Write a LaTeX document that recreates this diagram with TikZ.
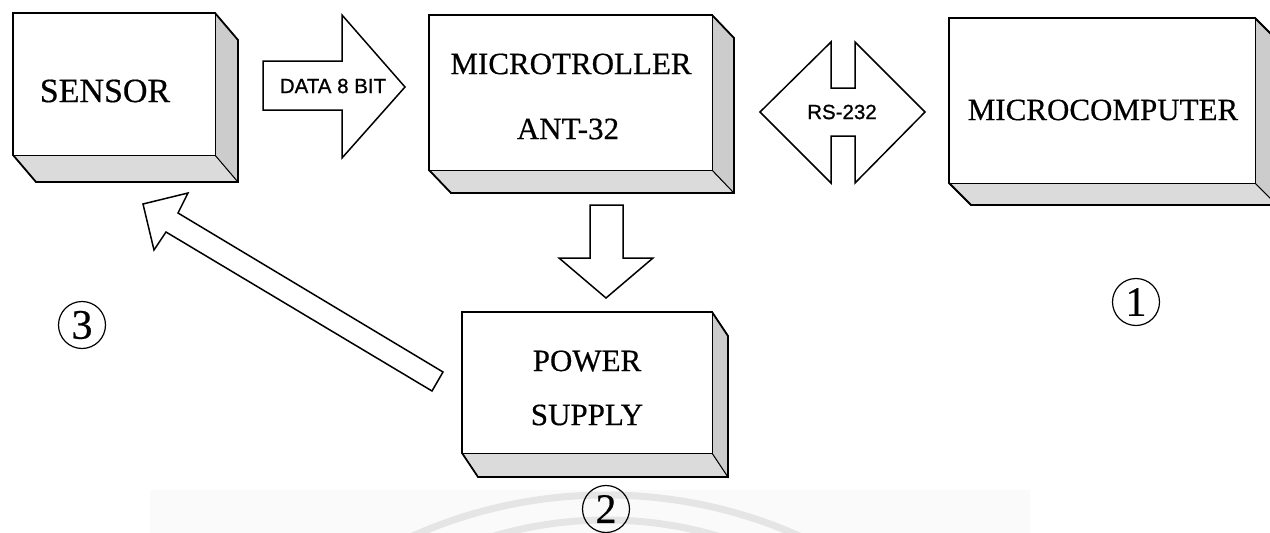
\documentclass[tikz,border=0pt]{standalone}
\usepackage{fontspec}
\setmainfont[FakeBold=0.5]{Liberation Serif}
\newfontfamily\arialfont[FakeBold=1]{Liberation Sans}
\tikzset{
  outerline/.style={draw=black, line width=1.8pt, line join=miter},
  frontface/.style={draw=black, fill=white, line width=1pt},
  sideface/.style={fill=gray!40, draw=black, line width=0.9pt},
  baseface/.style={fill=gray!28, draw=black, line width=0.9pt},
  blockarrow/.style={draw=black, fill=white, line width=1.5pt, line join=miter},
  boxlabel/.style={font=\fontsize{31}{36}\selectfont, inner sep=0pt},
  arrowlabel/.style={font=\arialfont\fontsize{20.5}{24}\selectfont, inner sep=0pt},
  numlabel/.style={circle, draw=black, line width=1.2pt, minimum size=47pt, inner sep=0pt, font=\fontsize{42}{42}\selectfont},
  wmark/.style={draw=gray!20, line width=7pt},
}
% #1 name, (#2,#3) front top-left, (#4,#5) front bottom-right, #6 dx, #7 dy
\newcommand{\solidbox}[7]{%
  \path[baseface] (#2,#5) -- (#4,#5) -- ({#4+#6},{#5+#7}) -- ({#2+#6},{#5+#7}) -- cycle;
  \path[sideface] (#4,#3) -- ({#4+#6},{#3+#7}) -- ({#4+#6},{#5+#7}) -- (#4,#5) -- cycle;
  \path[frontface] (#2,#3) rectangle (#4,#5);
  \path[outerline] (#2,#3) -- (#4,#3) -- ({#4+#6},{#3+#7}) -- ({#4+#6},{#5+#7}) -- ({#2+#6},{#5+#7}) -- (#2,#5) -- cycle;
  \coordinate (#1) at ({(#2+#4)/2},{(#3+#5)/2});
}
\begin{document}
\begin{tikzpicture}[x=1pt,y=-1pt]
\path[use as bounding box, clip] (0,0) rectangle (1270,533);
\fill[white] (0,0) rectangle (1270,533);

% faint watermark
\fill[gray!4] (150,490) rectangle (1030,533);
\begin{scope}
  \clip (150,490) rectangle (1030,533);
  \draw[wmark] (606,970) circle[radius=475pt];
  \draw[wmark] (606,915) circle[radius=395pt];
\end{scope}

% boxes
\solidbox{sensor}{13}{13}{215}{155}{23}{27}
\solidbox{mcu}{429}{15}{712}{170}{22}{23}
\solidbox{pc}{949}{18}{1255}{183}{22}{22}
\solidbox{psu}{462}{312}{712}{453}{16}{24}

\node[boxlabel, font=\fontsize{34}{38}\selectfont] (sensortxt) at (105,91) {SENSOR};
\node[boxlabel] (mcutxta) at (571,64) {MICROTROLLER};
\node[boxlabel] (mcutxtb) at (568,129) {ANT-32};
\node[boxlabel] (pctxt) at (1103,110) {MICROCOMPUTER};
\node[boxlabel] (psutxta) at (587,361) {POWER};
\node[boxlabel] (psutxtb) at (587,415) {SUPPLY};

% DATA 8 BIT block arrow (sensor -> microtroller)
\draw[blockarrow] (263,61) -- (342,61) -- (342,15) -- (405,87) -- (342,158) -- (342,110) -- (263,110) -- cycle;
\node[arrowlabel] (datalbl) at (333,86) {DATA 8 BIT};

% RS-232 double block arrow (microtroller <-> microcomputer)
\draw[blockarrow] (760,112) -- (831,42) -- (831,88) -- (855,88) -- (855,42) -- (925,112)
  -- (855,183) -- (855,136) -- (831,136) -- (831,183) -- cycle;
\node[arrowlabel] (rslbl) at (842,112) {RS-232};

% down block arrow (microtroller -> power supply)
\draw[blockarrow] (590,205) -- (623,205) -- (623,258) -- (653,258) -- (606,298) -- (559,258) -- (590,258) -- cycle;

% diagonal block arrow (power supply -> sensor)
\draw[blockarrow] (443,372) -- (178,213) -- (188,193) -- (143,204) -- (154,250) -- (166,232) -- (432,391) -- cycle;

% circled numbers
\node[numlabel] (n1) at (1136,302) {1};
\node[numlabel] (n2) at (606,509) {2};
\node[numlabel] (n3) at (82,325) {3};
\end{tikzpicture}
\end{document}
